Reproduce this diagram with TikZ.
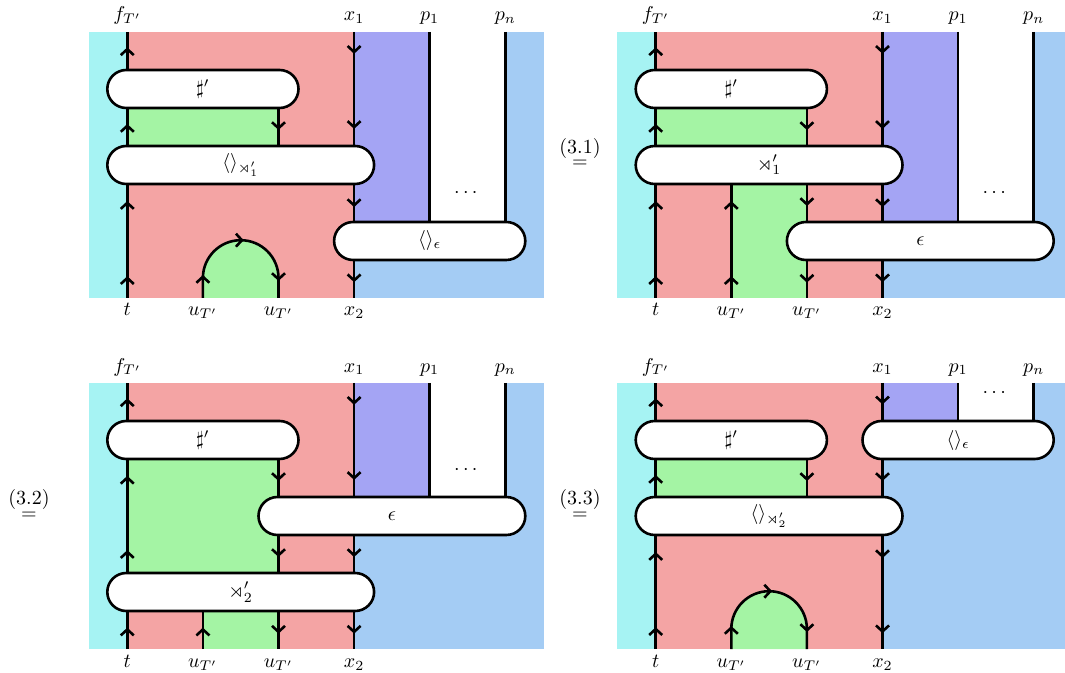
\documentclass[tikz,border=0pt]{standalone}
\usepackage{amsmath,amssymb}
\usetikzlibrary{arrows.meta,decorations.markings}
\pgfdeclarelayer{bgl}
\pgfdeclarelayer{lnl}
\pgfsetlayers{bgl,lnl,main}
\definecolor{cyn}{RGB}{166,243,243}
\definecolor{rd}{RGB}{244,164,164}
\definecolor{grn}{RGB}{164,244,164}
\definecolor{prp}{RGB}{164,164,244}
\definecolor{blu}{RGB}{164,204,244}
\tikzset{
  myb/.tip={Straight Barb[length=3pt,width=6.5pt]},
  ln/.style={line width=1.3pt},
  boxst/.style={draw, fill=white, line width=1.3pt, rounded corners=9.5pt, minimum height=19pt, inner sep=0pt},
  arrone/.style={postaction={decorate},decoration={markings,mark=at position 0.5 with {\arrow[xshift=1.5pt]{myb}}}},
  arrtwo/.style={postaction={decorate},decoration={markings,mark=at position 0.1667 with {\arrow[xshift=1.5pt]{myb}},mark=at position 0.8333 with {\arrow[xshift=1.5pt]{myb}}}},
  capst/.style={postaction={decorate},decoration={markings,mark=at position 0.126 with {\arrow[xshift=1.5pt]{myb}},mark=at position 0.5 with {\arrow[xshift=1.5pt]{myb}},mark=at position 0.874 with {\arrow[xshift=1.5pt]{myb}}}},
  lab/.style={anchor=base, inner sep=0pt}
}
\begin{document}
\begin{tikzpicture}[x=0.5pt,y=-0.5pt]
\useasboundingbox (0,0) rectangle (1065,673);

% ================= Panel A (top left)
\begin{scope}
\coordinate (AT0) at (127.3,32); \coordinate (AT3) at (354.1,32);
\coordinate (AT4) at (429.7,32); \coordinate (AT5) at (505.3,32);
\coordinate (AB0) at (127.3,298); \coordinate (AB1) at (202.9,298);
\coordinate (AB2) at (278.5,298); \coordinate (AB3) at (354.1,298);
\node[boxst,minimum width=95.6pt] (A1) at (202.9,89) {$\sharp'$};
\node[boxst,minimum width=133.4pt] (A2) at (240.7,165) {$\langle\rangle_{\rtimes'_1}$};
\node[boxst,minimum width=95.6pt] (A3) at (429.7,241) {$\langle\rangle_{\epsilon}$};
\begin{pgfonlayer}{bgl}
\fill[cyn] (89,32) rectangle (127.3,298);
\fill[rd] (127.3,32) rectangle (354.1,298);
\fill[grn] (127.3,89) rectangle (278.5,165);
\fill[prp] (354.1,32) rectangle (429.7,241);
\fill[blu] (505.3,32) rectangle (544,298);
\fill[blu] (354.1,241) rectangle (544,298);
\fill[grn] (AB1) -- ++(0,-20) arc[start angle=180,end angle=0,radius=18.9pt] -- (AB2) -- cycle;
\end{pgfonlayer}
\begin{pgfonlayer}{lnl}
\draw[ln,arrone] (A1.north -| AT0) -- (AT0);
\draw[ln,arrone] (A2.north -| AT0) -- (A1.south -| AT0);
\draw[ln,arrtwo] (AB0) -- (A2.south -| AB0);
\draw[ln,arrone] (A1.south -| AB2) -- (A2.north -| AB2);
\draw[ln,capst] (AB1) -- ++(0,-20) arc[start angle=180,end angle=0,radius=18.9pt] -- (AB2);
\draw[ln,arrtwo] (AT3) -- (A2.north -| AT3);
\draw[ln,arrtwo] (A2.south -| AT3) -- (AB3);
\draw[ln] (AT4) -- (A3.north -| AT4);
\draw[ln] (AT5) -- (A3.north -| AT5);
\end{pgfonlayer}
\node (AD) at (467.5,193) {$\cdots$};
\node[lab] (AL1) at (127.3,21) {$f_{T'}$};
\node[lab] (AL2) at (354.1,21) {$x_1$};
\node[lab] (AL3) at (429.7,21) {$p_1$};
\node[lab] (AL4) at (505.3,21) {$p_n$};
\node[lab] (AL5) at (127.3,316) {$t$};
\node[lab] (AL6) at (202.9,316) {$u_{T'}$};
\node[lab] (AL7) at (278.5,316) {$u_{T'}$};
\node[lab] (AL8) at (354.1,316) {$x_2$};
\end{scope}

% ================= Panel B (top right)
\begin{scope}[shift={(528.4,0)}]
\coordinate (BT0) at (127.3,32); \coordinate (BT2) at (278.5,32); \coordinate (BT3) at (354.1,32);
\coordinate (BT4) at (429.7,32); \coordinate (BT5) at (505.3,32);
\coordinate (BB0) at (127.3,298); \coordinate (BB1) at (202.9,298);
\coordinate (BB2) at (278.5,298); \coordinate (BB3) at (354.1,298);
\node[boxst,minimum width=95.6pt] (B1) at (202.9,89) {$\sharp'$};
\node[boxst,minimum width=133.4pt] (B2) at (240.7,165) {$\rtimes'_1$};
\node[boxst,minimum width=133.4pt] (B3) at (391.9,241) {$\epsilon$};
\begin{pgfonlayer}{bgl}
\fill[cyn] (89,32) rectangle (127.3,298);
\fill[rd] (127.3,32) rectangle (354.1,298);
\fill[grn] (127.3,89) rectangle (278.5,165);
\fill[grn] (202.9,165) rectangle (278.5,298);
\fill[prp] (354.1,32) rectangle (429.7,241);
\fill[blu] (505.3,32) rectangle (536.6,298);
\fill[blu] (354.1,241) rectangle (536.6,298);
\end{pgfonlayer}
\begin{pgfonlayer}{lnl}
\draw[ln,arrone] (B1.north -| BT0) -- (BT0);
\draw[ln,arrone] (B2.north -| BT0) -- (B1.south -| BT0);
\draw[ln,arrtwo] (BB0) -- (B2.south -| BB0);
\draw[ln,arrtwo] (BB1) -- (B2.south -| BB1);
\draw[ln,arrone] (B1.south -| BT2) -- (B2.north -| BT2);
\draw[ln,arrone] (B2.south -| BT2) -- (B3.north -| BT2);
\draw[ln,arrone] (B3.south -| BB2) -- (BB2);
\draw[ln,arrtwo] (BT3) -- (B2.north -| BT3);
\draw[ln,arrtwo] (B2.south -| BT3) -- (BB3);
\draw[ln] (BT4) -- (B3.north -| BT4);
\draw[ln] (BT5) -- (B3.north -| BT5);
\end{pgfonlayer}
\node (BD) at (467.5,193) {$\cdots$};
\node[lab] (BL1) at (127.3,21) {$f_{T'}$};
\node[lab] (BL2) at (354.1,21) {$x_1$};
\node[lab] (BL3) at (429.7,21) {$p_1$};
\node[lab] (BL4) at (505.3,21) {$p_n$};
\node[lab] (BL5) at (127.3,316) {$t$};
\node[lab] (BL6) at (202.9,316) {$u_{T'}$};
\node[lab] (BL7) at (278.5,316) {$u_{T'}$};
\node[lab] (BL8) at (354.1,316) {$x_2$};
\end{scope}

% ================= Panel C (bottom left)
\begin{scope}[shift={(0,351)}]
\coordinate (CT0) at (127.3,32); \coordinate (CT2) at (278.5,32); \coordinate (CT3) at (354.1,32);
\coordinate (CT4) at (429.7,32); \coordinate (CT5) at (505.3,32);
\coordinate (CB0) at (127.3,298); \coordinate (CB1) at (202.9,298);
\coordinate (CB2) at (278.5,298); \coordinate (CB3) at (354.1,298);
\node[boxst,minimum width=95.6pt] (C1) at (202.9,89) {$\sharp'$};
\node[boxst,minimum width=133.4pt] (C2) at (391.9,165) {$\epsilon$};
\node[boxst,minimum width=133.4pt] (C3) at (240.7,241) {$\rtimes'_2$};
\begin{pgfonlayer}{bgl}
\fill[cyn] (89,32) rectangle (127.3,298);
\fill[rd] (127.3,32) rectangle (354.1,298);
\fill[grn] (127.3,89) rectangle (278.5,241);
\fill[grn] (202.9,241) rectangle (278.5,298);
\fill[prp] (354.1,32) rectangle (429.7,165);
\fill[blu] (505.3,32) rectangle (544,298);
\fill[blu] (354.1,165) rectangle (544,298);
\end{pgfonlayer}
\begin{pgfonlayer}{lnl}
\draw[ln,arrone] (C1.north -| CT0) -- (CT0);
\draw[ln,arrtwo] (C3.north -| CT0) -- (C1.south -| CT0);
\draw[ln,arrone] (CB0) -- (C3.south -| CB0);
\draw[ln,arrone] (CB1) -- (C3.south -| CB1);
\draw[ln,arrone] (C1.south -| CT2) -- (C2.north -| CT2);
\draw[ln,arrone] (C2.south -| CT2) -- (C3.north -| CT2);
\draw[ln,arrone] (C3.south -| CB2) -- (CB2);
\draw[ln,arrtwo] (CT3) -- (C2.north -| CT3);
\draw[ln,arrone] (C2.south -| CT3) -- (C3.north -| CT3);
\draw[ln,arrone] (C3.south -| CB3) -- (CB3);
\draw[ln] (CT4) -- (C2.north -| CT4);
\draw[ln] (CT5) -- (C2.north -| CT5);
\end{pgfonlayer}
\node (CD) at (467.5,119) {$\cdots$};
\node[lab] (CL1) at (127.3,21) {$f_{T'}$};
\node[lab] (CL2) at (354.1,21) {$x_1$};
\node[lab] (CL3) at (429.7,21) {$p_1$};
\node[lab] (CL4) at (505.3,21) {$p_n$};
\node[lab] (CL5) at (127.3,316) {$t$};
\node[lab] (CL6) at (202.9,316) {$u_{T'}$};
\node[lab] (CL7) at (278.5,316) {$u_{T'}$};
\node[lab] (CL8) at (354.1,316) {$x_2$};
\end{scope}

% ================= Panel D (bottom right)
\begin{scope}[shift={(528.4,351)}]
\coordinate (DT0) at (127.3,32); \coordinate (DT2) at (278.5,32); \coordinate (DT3) at (354.1,32);
\coordinate (DT4) at (429.7,32); \coordinate (DT5) at (505.3,32);
\coordinate (DB0) at (127.3,298); \coordinate (DB1) at (202.9,298);
\coordinate (DB2) at (278.5,298); \coordinate (DB3) at (354.1,298);
\node[boxst,minimum width=95.6pt] (D1) at (202.9,89) {$\sharp'$};
\node[boxst,minimum width=133.4pt] (D2) at (240.7,165) {$\langle\rangle_{\rtimes'_2}$};
\node[boxst,minimum width=95.6pt] (D3) at (429.7,89) {$\langle\rangle_{\epsilon}$};
\begin{pgfonlayer}{bgl}
\fill[cyn] (89,32) rectangle (127.3,298);
\fill[rd] (127.3,32) rectangle (354.1,298);
\fill[grn] (127.3,89) rectangle (278.5,165);
\fill[prp] (354.1,32) rectangle (429.7,89);
\fill[blu] (505.3,32) rectangle (536.6,298);
\fill[blu] (354.1,89) rectangle (536.6,298);
\fill[grn] (DB1) -- ++(0,-20) arc[start angle=180,end angle=0,radius=18.9pt] -- (DB2) -- cycle;
\end{pgfonlayer}
\begin{pgfonlayer}{lnl}
\draw[ln,arrone] (D1.north -| DT0) -- (DT0);
\draw[ln,arrone] (D2.north -| DT0) -- (D1.south -| DT0);
\draw[ln,arrtwo] (DB0) -- (D2.south -| DB0);
\draw[ln,arrone] (D1.south -| DT2) -- (D2.north -| DT2);
\draw[ln,capst] (DB1) -- ++(0,-20) arc[start angle=180,end angle=0,radius=18.9pt] -- (DB2);
\draw[ln,arrone] (DT3) -- (D3.north -| DT3);
\draw[ln,arrone] (D3.south -| DT3) -- (D2.north -| DT3);
\draw[ln,arrtwo] (D2.south -| DT3) -- (DB3);
\draw[ln] (DT4) -- (D3.north -| DT4);
\draw[ln] (DT5) -- (D3.north -| DT5);
\end{pgfonlayer}
\node (DD) at (467.5,42) {$\cdots$};
\node[lab] (DL1) at (127.3,21) {$f_{T'}$};
\node[lab] (DL2) at (354.1,21) {$x_1$};
\node[lab] (DL3) at (429.7,21) {$p_1$};
\node[lab] (DL4) at (505.3,21) {$p_n$};
\node[lab] (DL5) at (127.3,316) {$t$};
\node[lab] (DL6) at (202.9,316) {$u_{T'}$};
\node[lab] (DL7) at (278.5,316) {$u_{T'}$};
\node[lab] (DL8) at (354.1,316) {$x_2$};
\end{scope}

% ================= equation signs
\node[lab] (E1) at (580,168) {$\stackrel{\mbox{\normalsize(3.1)}}{=}$};
\node[lab] (E2) at (29,519) {$\stackrel{\mbox{\normalsize(3.2)}}{=}$};
\node[lab] (E3) at (580,519) {$\stackrel{\mbox{\normalsize(3.3)}}{=}$};
\end{tikzpicture}
\end{document}
